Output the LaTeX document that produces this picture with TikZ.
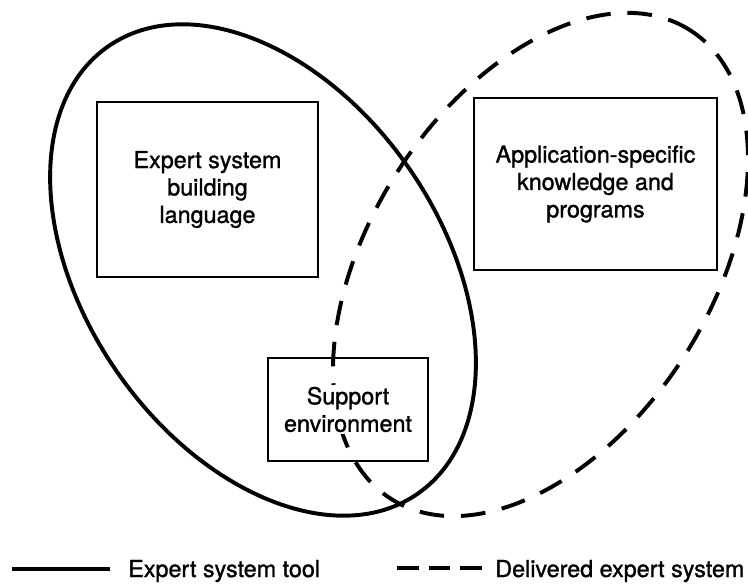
\documentclass[tikz,border=0pt]{standalone}
\usepackage{fontspec}
\setmainfont{TeX Gyre Heros}[UprightFeatures={FakeBold=1.2}]

\begin{document}
\begin{tikzpicture}[x=0.025cm, y=0.025cm, font=\fontsize{16.6pt}{19.5pt}\selectfont,
    box/.style={draw, line width=1.7pt, align=center, inner sep=0pt},
    toolline/.style={line width=2.8pt},
    deliveredline/.style={line width=2.8pt, dash pattern=on 17.5pt off 12pt}]
    \useasboundingbox (0,0) rectangle (748,585);
    \draw [toolline, rotate around={-55.4:(263,315)}] (263,315) ellipse [x radius=272, y radius=178];
    \draw [deliveredline, rotate around={57.4:(540.5,320.5)}] (540.5,320.5) ellipse [x radius=278, y radius=170.5];
    \node [box, minimum width=5.525cm, minimum height=4.375cm] (lang) at (207.5,395.5) {Expert system\\building\\language};
    \node [box, minimum width=6.075cm, minimum height=4.3cm] (appl) at (595.5,401) {Application-specific\\knowledge and\\programs};
    \node [box, minimum width=4cm, minimum height=2.575cm,
      label={[fill=white, align=center, inner sep=1pt]center:Support\\environment}] (support) at (348,175.5) {};
    \coordinate (toolstart) at (12,16);
    \coordinate (toolend) at (110,16);
    \draw [toolline] (toolstart) -- (toolend);
    \node [anchor=base west, inner sep=0pt] (tooltext) at (128,8) {Expert system tool};
    \coordinate (delstart) at (397,17);
    \coordinate (delend) at (482,17);
    \draw [deliveredline, dash pattern=on 15.5pt off 7pt] (delstart) -- (delend);
    \node [anchor=base west, inner sep=0pt] (deltext) at (495,8) {Delivered expert system};
  \end{tikzpicture}
\end{document}
